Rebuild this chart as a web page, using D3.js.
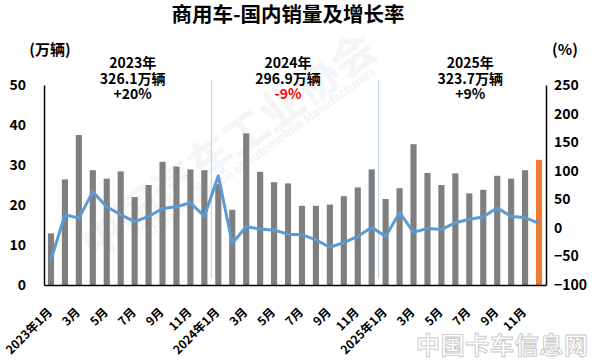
<!DOCTYPE html>
<html>
<head>
<meta charset="utf-8">
<script src="https://cdn.jsdelivr.net/npm/d3@7"></script>
<style>
  body { margin: 0; background: #fff; }
  svg text { font-family: "Noto Sans CJK SC", "Noto Sans", sans-serif; font-weight: bold; }
</style>
</head>
<body>
<svg width="600" height="362"></svg>
<script>
// months, every other one gets a label
const months = [
  "2023年1月","2月","3月","4月","5月","6月","7月","8月","9月","10月","11月","12月",
  "2024年1月","2月","3月","4月","5月","6月","7月","8月","9月","10月","11月","12月",
  "2025年1月","2月","3月","4月","5月","6月","7月","8月","9月","10月","11月","12月"
];
// domestic sales, 10k units
const sales = [
  12.9, 26.4, 37.5, 28.7, 26.6, 28.4, 22.0, 25.0, 30.8, 29.6, 28.9, 28.7,
  25.2, 18.8, 37.9, 28.3, 25.7, 25.4, 19.8, 19.8, 20.1, 22.2, 24.4, 28.9,
  21.5, 24.2, 35.2, 28.0, 25.0, 27.9, 22.9, 23.8, 27.3, 26.6, 28.7, 31.3
];
// year-on-year growth, %
const growth = [
  -56, 23, 17, 63, 37, 23, 11, 20, 34, 37, 44, 20,
  91, -27, 2, -2, -4, -11, -12, -21, -34, -26, -15, 1,
  -15, 27, -8, -1, -3, 9, 15, 19, 35, 20, 18, 8
];
const years = ["2023年", "2024年", "2025年"];
const yearTotals = ["326.1万辆", "296.9万辆", "323.7万辆"];
const yearGrowth = ["+20%", "-9%", "+9%"];
const leftTicks = [0, 10, 20, 30, 40, 50];
const rightTicks = [-100, -50, 0, 50, 100, 150, 200, 250];

var svg = d3.select("svg"),
    width = +svg.attr("width"),
    height = +svg.attr("height");

const plotLeft = 44, plotRight = 546, plotTop = 85, plotBottom = 285;

var x = d3.scaleBand()
  .domain(d3.range(months.length))
  .range([plotLeft, plotRight])
  .paddingInner(0.56)
  .paddingOuter(0.28);

var y = d3.scaleLinear().domain([0, 50]).range([plotBottom, plotTop]);
var y2 = d3.scaleLinear().domain([-100, 250]).range([plotBottom, plotTop]);

// faint association watermark
svg.append("text")
  .attr("transform", "translate(95,262) rotate(-36)")
  .attr("font-size", 44)
  .attr("fill", "#f3f5f7")
  .text("中国汽车工业协会");
svg.append("text")
  .attr("transform", "translate(150,238) rotate(-36)")
  .attr("font-size", 12)
  .attr("fill", "#f1f3f5")
  .text("China Association of Automobile Manufacturers");

// year separators
[11, 23].forEach(function(i) {
  var sx = (x(i) + x(i + 1)) / 2 + x.bandwidth() / 2;
  svg.append("line")
    .attr("x1", sx).attr("x2", sx)
    .attr("y1", 80).attr("y2", 278)
    .attr("stroke", "#bcd3ea")
    .attr("stroke-width", 1);
});

svg.append("g")
  .selectAll("rect")
  .data(sales)
  .enter().append("rect")
    .attr("x", function(d, i) { return x(i); })
    .attr("y", function(d) { return y(d); })
    .attr("width", x.bandwidth())
    .attr("height", function(d) { return plotBottom - y(d); })
    .attr("fill", function(d, i) { return i === sales.length - 1 ? "#ed7d31" : "#7f7f7f"; });

var line = d3.line()
  .x(function(d, i) { return x(i) + x.bandwidth() / 2; })
  .y(function(d) { return y2(d); });

svg.append("path")
  .datum(growth)
  .attr("d", line)
  .attr("fill", "none")
  .attr("stroke", "#5b9bd5")
  .attr("stroke-width", 3)
  .attr("stroke-linejoin", "round");

// axes
var leftAxis = svg.append("g")
  .attr("transform", "translate(" + plotLeft + ",0)")
  .call(d3.axisLeft(y).tickValues(leftTicks).tickSize(0).tickPadding(18));
var rightAxis = svg.append("g")
  .attr("transform", "translate(" + plotRight + ",0)")
  .call(d3.axisRight(y2).tickValues(rightTicks).tickSize(0).tickPadding(8));
var bottomAxis = svg.append("g")
  .attr("transform", "translate(0," + plotBottom + ")")
  .call(d3.axisBottom(x).tickSize(0).tickFormat(function(i) { return i % 2 === 0 ? months[i] : ""; }));

[leftAxis, rightAxis, bottomAxis].forEach(function(g) {
  g.select(".domain").attr("stroke", "#000").attr("stroke-width", 1.5);
  g.selectAll("text").attr("font-size", 14).attr("fill", "#000");
});

bottomAxis.selectAll("text")
  .attr("text-anchor", "end")
  .attr("transform", "translate(2,28) rotate(-45)")
  .attr("dy", 0)
  .attr("y", 0)
  .attr("font-size", 12);

// title and units
svg.append("text")
  .attr("x", 288).attr("y", 22)
  .attr("text-anchor", "middle")
  .attr("font-size", 20.5)
  .text("商用车-国内销量及增长率");
svg.append("text")
  .attr("x", 50).attr("y", 55)
  .attr("text-anchor", "middle")
  .attr("font-size", 15)
  .text("(万辆)");
svg.append("text")
  .attr("x", 565).attr("y", 55)
  .attr("text-anchor", "middle")
  .attr("font-size", 15)
  .text("(%)");

// yearly annotations
var yearShift = [5, -7, 8];
years.forEach(function(yr, k) {
  var cx = (x(k * 12) + x(k * 12 + 11) + x.bandwidth()) / 2 + yearShift[k];
  var g = svg.append("g").attr("text-anchor", "middle").attr("font-size", 14);
  g.append("text").attr("x", cx).attr("y", 68).text(yr);
  g.append("text").attr("x", cx).attr("y", 84).text(yearTotals[k]);
  g.append("text").attr("x", cx).attr("y", 99)
    .attr("fill", yearGrowth[k][0] === "-" ? "#ff0000" : "#000")
    .text(yearGrowth[k]);
});

// site watermark bottom right
svg.append("text")
  .attr("x", 416).attr("y", 354)
  .attr("font-size", 24)
  .attr("textLength", 172)
  .attr("fill", "#fff")
  .attr("stroke", "#c8c8c8")
  .attr("stroke-width", 0.9)
  .text("中国卡车信息网");
</script>
</body>
</html>
